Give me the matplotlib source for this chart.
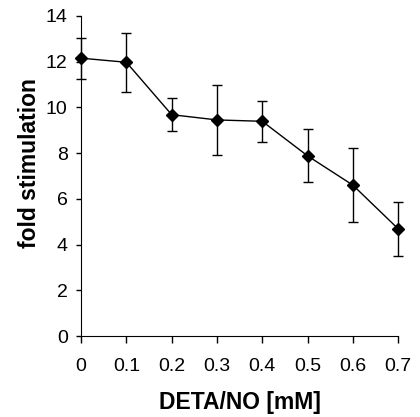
import matplotlib.pyplot as plt

# DETA/NO dose response
conc = [0, 0.1, 0.2, 0.3, 0.4, 0.5, 0.6, 0.7]
fold = [12.15, 11.97, 9.68, 9.45, 9.39, 7.88, 6.6, 4.69]
err = [0.9, 1.3, 0.71, 1.52, 0.89, 1.16, 1.61, 1.18]
xticks = [0, 0.1, 0.2, 0.3, 0.4, 0.5, 0.6, 0.7]
xticklabels = ['0', '0.1', '0.2', '0.3', '0.4', '0.5', '0.6', '0.7']
yticks = [0, 2, 4, 6, 8, 10, 12, 14]

plt.rcParams['font.family'] = ['Liberation Sans', 'DejaVu Sans']

fig = plt.figure(figsize=(4.2, 4.17), dpi=100)
ax = fig.add_axes([0.193, 0.194, 0.755, 0.768])

ax.errorbar(conc, fold, yerr=err, color='black', lw=1.0, elinewidth=1.0,
            capsize=3.6, capthick=1.0, marker='D', markersize=6.5,
            clip_on=False)

ax.set_xlim(0, 0.7)
ax.set_ylim(0, 14)
ax.set_xticks(xticks)
ax.set_xticklabels(xticklabels)
ax.set_yticks(yticks)
ax.spines['top'].set_visible(False)
ax.spines['right'].set_visible(False)
ax.tick_params(axis='x', direction='out', length=5, width=1, labelsize=14, pad=11)
ax.tick_params(axis='y', direction='out', length=3.6, width=1, labelsize=14, pad=6)
ax.set_xlabel('DETA/NO [mM]', fontsize=16.5, fontweight='bold', labelpad=11)
ax.set_ylabel('fold stimulation', fontsize=16.5, fontweight='bold')
ax.yaxis.set_label_coords(-0.125, 0.54)

fig.savefig('out.png', dpi=100)
